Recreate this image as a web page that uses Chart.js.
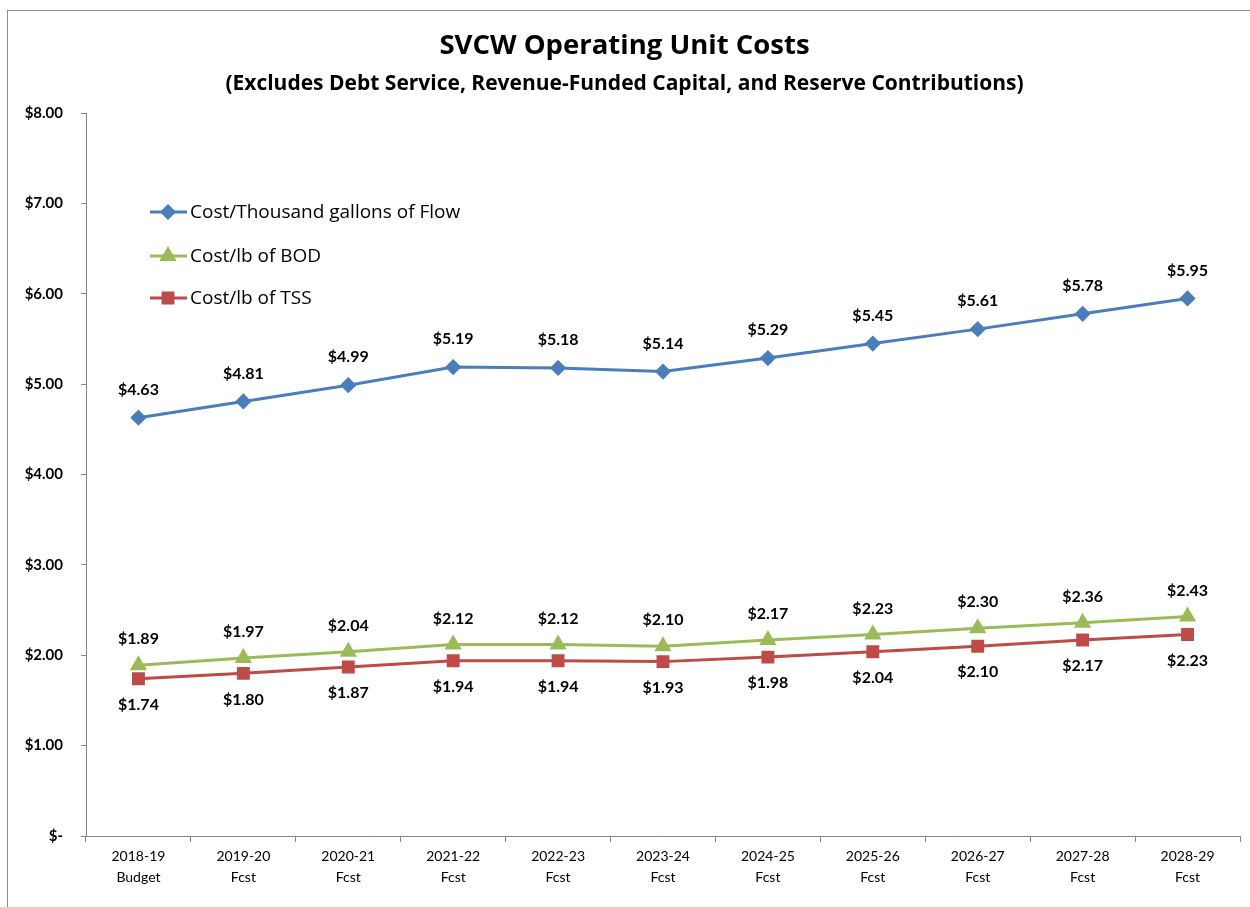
<!DOCTYPE html>
<html>
<head>
<meta charset="utf-8">
<script src="https://cdn.jsdelivr.net/npm/chart.js@4/dist/chart.umd.min.js"></script>
<style>
  html, body { margin: 0; padding: 0; background: #fff; }
  #wrap { width: 1250px; height: 907px; }
</style>
</head>
<body>
<div id="wrap"><canvas id="unitCosts"></canvas></div>
<script>
// categories and series
var years = [
    ['2018-19', 'Budget'], ['2019-20', 'Fcst'], ['2020-21', 'Fcst'], ['2021-22', 'Fcst'],
    ['2022-23', 'Fcst'], ['2023-24', 'Fcst'], ['2024-25', 'Fcst'], ['2025-26', 'Fcst'],
    ['2026-27', 'Fcst'], ['2027-28', 'Fcst'], ['2028-29', 'Fcst']
];
var flowCost = [4.63, 4.81, 4.99, 5.19, 5.18, 5.14, 5.29, 5.45, 5.61, 5.78, 5.95];
var bodCost = [1.89, 1.97, 2.04, 2.12, 2.12, 2.10, 2.17, 2.23, 2.30, 2.36, 2.43];
var tssCost = [1.74, 1.80, 1.87, 1.94, 1.94, 1.93, 1.98, 2.04, 2.10, 2.17, 2.23];
var seriesNames = ['Cost/Thousand gallons of Flow', 'Cost/lb of BOD', 'Cost/lb of TSS'];

var FONT = 'Lato, "Open Sans", sans-serif';
var WIDE = '"Open Sans", Lato, sans-serif';

function money(v) {
    return v === 0 ? '$-' : '$' + v.toFixed(2);
}

// frame, value labels and the legend inside the plot
var extras = {
    id: 'extras',
    beforeDraw: function (chart) {
        var c = chart.ctx;
        c.save();
        c.fillStyle = '#fff';
        c.fillRect(0, 0, chart.width, chart.height);
        c.strokeStyle = '#8c8c8c';
        c.lineWidth = 1;
        c.strokeRect(7.5, 10.5, 1400, 1000);
        c.restore();
    },
    afterDatasetsDraw: function (chart) {
        var c = chart.ctx;
        var offsets = [-28, -26, 26];
        c.save();
        c.font = 'bold 16px ' + FONT;
        c.fillStyle = '#000';
        c.textAlign = 'center';
        c.textBaseline = 'middle';
        chart.data.datasets.forEach(function (ds, i) {
            chart.getDatasetMeta(i).data.forEach(function (pt, j) {
                c.fillText(money(ds.data[j]), pt.x, pt.y + offsets[i]);
            });
        });

        // legend
        var ly = [212, 256, 298];
        c.font = '19px ' + WIDE;
        c.textAlign = 'left';
        chart.data.datasets.forEach(function (ds, i) {
            c.strokeStyle = ds.borderColor;
            c.lineWidth = 3;
            c.beginPath();
            c.moveTo(150, ly[i]);
            c.lineTo(187, ly[i]);
            c.stroke();
            c.fillStyle = ds.backgroundColor;
            c.strokeStyle = ds.borderColor;
            Chart.helpers.drawPoint(c, {
                pointStyle: ds.pointStyle, radius: ds.pointRadius, rotation: 0, borderWidth: 1
            }, 168, ly[i]);
            c.fillStyle = '#000';
            c.fillText(ds.label, 190, ly[i] + 1);
        });
        c.restore();
    }
};

var ctx = document.getElementById('unitCosts').getContext('2d');
var unitChart = new Chart(ctx, {
    type: 'line',
    data: {
        labels: years,
        datasets: [{
            label: seriesNames[0],
            data: flowCost,
            borderColor: '#4A7EBB',
            backgroundColor: '#4A7EBB',
            pointStyle: 'rectRot',
            pointRadius: 6,
            borderWidth: 3
        }, {
            label: seriesNames[1],
            data: bodCost,
            borderColor: '#9BBB59',
            backgroundColor: '#9BBB59',
            pointStyle: 'triangle',
            pointRadius: 7,
            borderWidth: 3
        }, {
            label: seriesNames[2],
            data: tssCost,
            borderColor: '#BE4B48',
            backgroundColor: '#BE4B48',
            pointStyle: 'rect',
            pointRadius: 7,
            borderWidth: 3
        }]
    },
    options: {
        responsive: true,
        maintainAspectRatio: false,
        animation: false,
        layout: { padding: { left: 0, right: 1, top: 0, bottom: 0 } },
        elements: { line: { tension: 0 }, point: { borderWidth: 1, hoverRadius: 7 } },
        plugins: {
            legend: { display: false },
            tooltip: { enabled: false },
            title: {
                display: true,
                text: 'SVCW Operating Unit Costs',
                color: '#000',
                font: { family: WIDE, size: 27.5, weight: 'bold', lineHeight: 1.2 },
                padding: { top: 30, bottom: 4 }
            },
            subtitle: {
                display: true,
                text: '(Excludes Debt Service, Revenue-Funded Capital, and Reserve Contributions)',
                color: '#000',
                font: { family: WIDE, size: 21, weight: 'bold', lineHeight: 1.2 },
                padding: { top: 4, bottom: 17 }
            }
        },
        scales: {
            x: {
                offset: true,
                grid: { display: true, drawOnChartArea: false, offset: true, tickLength: 6, color: '#868686' },
                border: { display: true, color: '#868686', width: 1 },
                ticks: {
                    color: '#000',
                    maxRotation: 0,
                    autoSkip: false,
                    padding: 4,
                    font: { family: FONT, size: 14, lineHeight: 1.5 }
                },
                afterFit: function (scale) { scale.height = 71; }
            },
            y: {
                min: 0,
                max: 8,
                grid: { display: true, drawOnChartArea: false, tickLength: 5, color: '#868686' },
                border: { display: true, color: '#868686', width: 1 },
                ticks: {
                    stepSize: 1,
                    color: '#000',
                    padding: 18,
                    font: { family: FONT, size: 15, weight: 'bold' },
                    callback: function (v) { return money(v); }
                },
                afterFit: function (scale) { scale.width = 86; }
            }
        }
    },
    plugins: [extras]
});
</script>
</body>
</html>
